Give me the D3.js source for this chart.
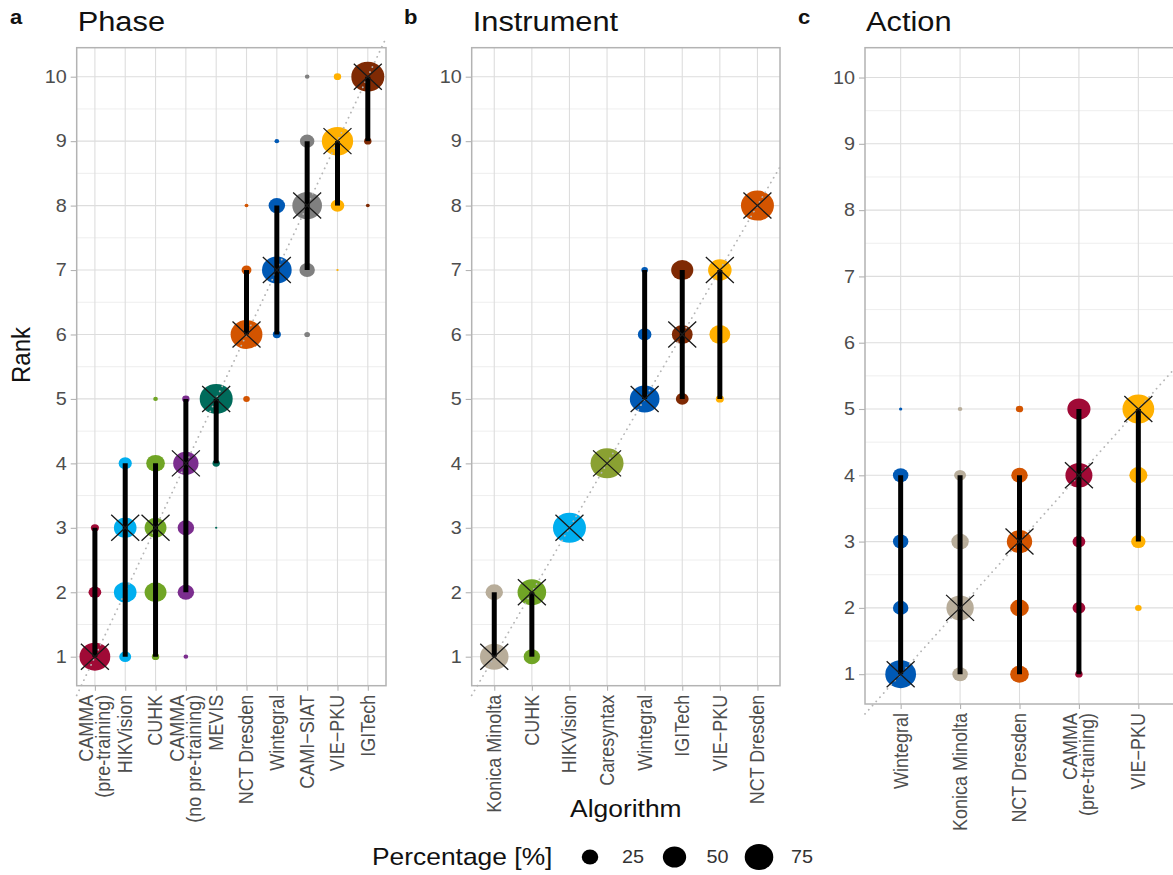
<!DOCTYPE html>
<html>
<head>
<meta charset="utf-8">
<script src="https://cdn.jsdelivr.net/npm/d3@7"></script>
<style>
  html, body { margin: 0; padding: 0; background: #fff; }
  svg { display: block; font-family: "Liberation Sans", Arial, sans-serif; }
</style>
</head>
<body>
<svg id="chart" width="1173" height="875"></svg>
<script>
// ---------------- DATA ----------------
const rankTicks = [1, 2, 3, 4, 5, 6, 7, 8, 9, 10];
const legendValues = [25, 50, 75];

// Panel a: Phase
const phaseAlgorithms = ["CAMMA\n(pre-training)", "HIKVision", "CUHK", "CAMMA\n(no pre-training)", "MEVIS",
  "NCT Dresden", "Wintegral", "CAMI\u2212SIAT", "VIE\u2212PKU", "IGITech"];
const phaseColors = ["#A00A36", "#00AEEF", "#70A525", "#7B2D8E", "#006B5B",
  "#D35400", "#0059B5", "#808080", "#FFB000", "#7F2A04"];
const phaseRank = [1, 3, 3, 4, 5, 6, 7, 8, 9, 10];
const phaseLow  = [1, 1, 1, 2, 4, 6, 6, 7, 8, 9];
const phaseHigh = [3, 4, 4, 5, 5, 7, 8, 9, 9, 10];
const phasePoints = [
  [[1, 87], [2, 15], [3, 6]],
  [[1, 13], [2, 47], [3, 47], [4, 16]],
  [[1, 5], [2, 44], [3, 44], [4, 32], [5, 2]],
  [[1, 2], [2, 25], [3, 25], [4, 59], [5, 5]],
  [[3, 0.5], [4, 5], [5, 100]],
  [[5, 4], [6, 93], [7, 9], [8, 1.4]],
  [[6, 6], [7, 81], [8, 25], [9, 2]],
  [[6, 3], [7, 22], [8, 81], [9, 19], [10, 2]],
  [[7, 0.5], [8, 17], [9, 90], [10, 5]],
  [[8, 1.4], [9, 5], [10, 100]]
];

// Panel b: Instrument
const instrumentAlgorithms = ["Konica Minolta", "CUHK", "HIKVision", "Caresyntax", "Wintegral",
  "IGITech", "VIE\u2212PKU", "NCT Dresden"];
const instrumentColors = ["#B8AD9A", "#70A525", "#00AEEF", "#8AA132", "#0059B5",
  "#7F2A04", "#FFB000", "#D35400"];
const instrumentRank = [1, 2, 3, 4, 5, 6, 7, 8];
const instrumentLow  = [1, 1, 3, 4, 5, 5, 5, 8];
const instrumentHigh = [2, 2, 3, 4, 7, 7, 7, 8];
const instrumentPoints = [
  [[1, 75], [2, 28]],
  [[1, 25], [2, 75]],
  [[3, 100]],
  [[4, 100]],
  [[5, 81], [6, 17], [7, 4]],
  [[5, 15], [6, 40], [7, 45]],
  [[5, 6], [6, 40], [7, 51]],
  [[8, 100]]
];

// Panel c: Action
const actionAlgorithms = ["Wintegral", "Konica Minolta", "NCT Dresden", "CAMMA\n(pre-training)", "VIE\u2212PKU"];
const actionColors = ["#0059B5", "#B8AD9A", "#D35400", "#A00A36", "#FFB000"];
const actionRank = [1, 2, 3, 4, 5];
const actionLow  = [1, 1, 1, 1, 3];
const actionHigh = [4, 4, 4, 5, 5];
const actionPoints = [
  [[1, 87], [2, 22], [3, 22], [4, 22], [5, 1]],
  [[1, 22], [2, 69], [3, 28], [4, 13], [5, 2]],
  [[1, 32], [2, 32], [3, 59], [4, 25], [5, 5]],
  [[1, 5], [2, 15], [3, 15], [4, 67], [5, 49]],
  [[2, 4], [3, 19], [4, 30], [5, 93]]
];

// ---------------- DRAW ----------------
const svg = d3.select("#chart");
const FONT = "'Liberation Sans', Arial, sans-serif";
const SX = 1.1; // horizontal stretch seen in the reference
const size = d3.scaleSqrt().domain([0, 100]).range([0, 15]);

function htext(parent, x, y, str, fs, opts = {}) {
  return parent.append("text")
    .attr("transform", `translate(${x},${y}) scale(${SX},1)`)
    .attr("font-size", fs).attr("font-family", FONT)
    .attr("font-weight", opts.weight || "normal")
    .attr("text-anchor", opts.anchor || "start")
    .attr("fill", opts.fill || "#111").text(str);
}

const panels = [
  {tag: "a", title: "Phase", names: phaseAlgorithms, colors: phaseColors, rank: phaseRank,
   low: phaseLow, high: phaseHigh, points: phasePoints,
   box: {left: 76.7, right: 386, top: 47.7, bottom: 685.7}, tagX: 10},
  {tag: "b", title: "Instrument", names: instrumentAlgorithms, colors: instrumentColors, rank: instrumentRank,
   low: instrumentLow, high: instrumentHigh, points: instrumentPoints,
   box: {left: 471.7, right: 780, top: 47.7, bottom: 685.7}, tagX: 404},
  {tag: "c", title: "Action", names: actionAlgorithms, colors: actionColors, rank: actionRank,
   low: actionLow, high: actionHigh, points: actionPoints,
   box: {left: 865, right: 1174, top: 47.7, bottom: 704}, tagX: 798}
];

panels.forEach(p => {
  const b = p.box;
  const n = p.names.length;
  const x = d3.scalePoint().domain(p.names).range([b.left, b.right]).padding(0.6);
  const xl = d3.scaleLinear().domain([1, n]).range([x(p.names[0]), x(p.names[n - 1])]);
  const y = d3.scaleLinear().domain([0.55, 10.45]).range([b.bottom, b.top]);
  const g = svg.append("g");

  // tag and title
  htext(svg, p.tagX, 24, p.tag, 20, {weight: "bold"});
  htext(svg, b.left + 1, 31, p.title, 28);

  const clipId = "clip-" + p.tag;
  svg.append("clipPath").attr("id", clipId).append("rect")
    .attr("x", b.left).attr("y", b.top).attr("width", b.right - b.left).attr("height", b.bottom - b.top);

  // grid
  const grid = g.append("g").attr("clip-path", `url(#${clipId})`);
  const minor = d3.range(0.5, 11, 1);
  grid.selectAll(".minor").data(minor).join("line")
    .attr("x1", b.left).attr("x2", b.right).attr("y1", d => y(d)).attr("y2", d => y(d))
    .attr("stroke", "#E6E6E6").attr("stroke-width", 0.7);
  grid.selectAll(".major").data(rankTicks).join("line")
    .attr("x1", b.left).attr("x2", b.right).attr("y1", d => y(d)).attr("y2", d => y(d))
    .attr("stroke", "#DDDDDD").attr("stroke-width", 1.1);
  grid.selectAll(".vmajor").data(p.names).join("line")
    .attr("x1", d => x(d)).attr("x2", d => x(d)).attr("y1", b.top).attr("y2", b.bottom)
    .attr("stroke", "#DDDDDD").attr("stroke-width", 1.1);

  // y axis
  const yAxis = d3.axisLeft(y).tickValues(rankTicks).tickSize(6).tickPadding(4).tickFormat(d3.format("d"));
  const ya = g.append("g").attr("transform", `translate(${b.left},0)`).call(yAxis);
  ya.select(".domain").remove();
  ya.selectAll("line").attr("stroke", "#B3B3B3").attr("stroke-width", 1.1);
  ya.selectAll("text").attr("x", 0).attr("transform", `translate(-10,0) scale(${SX},1)`)
    .attr("font-size", 18).attr("font-family", FONT).attr("fill", "#4D4D4D");

  // x axis ticks
  const xAxis = d3.axisBottom(x).tickSize(5).tickFormat("");
  const xa = g.append("g").attr("transform", `translate(0,${b.bottom})`).call(xAxis);
  xa.select(".domain").remove();
  xa.selectAll("line").attr("stroke", "#B3B3B3").attr("stroke-width", 1.1);

  // x labels (rotated, multi-line)
  const lh = 17;
  p.names.forEach(name => {
    const lines = name.split("\n");
    const t = g.append("g").attr("transform", `translate(${x(name)},${b.bottom + 9}) rotate(-90) scale(1,${SX})`)
      .append("text").attr("text-anchor", "end").attr("font-size", 18).attr("font-family", FONT)
      .attr("fill", "#4D4D4D");
    lines.forEach((ln, k) => {
      t.append("tspan").attr("x", 0).attr("y", (k - (lines.length - 1) / 2) * (lh / SX)).attr("dy", "0.35em").text(ln);
    });
  });

  // points
  const pts = [];
  p.points.forEach((arr, i) => arr.forEach(([r, pct]) => pts.push({name: p.names[i], color: p.colors[i], r, pct})));
  g.append("g").selectAll("ellipse").data(pts).join("ellipse")
    .attr("cx", d => x(d.name)).attr("cy", d => y(d.r))
    .attr("rx", d => size(d.pct) * SX).attr("ry", d => size(d.pct))
    .attr("fill", d => d.color);

  // diagonal dotted line (unclipped)
  g.append("line")
    .attr("x1", xl(0.4)).attr("y1", y(0.4)).attr("x2", xl(n + 0.6)).attr("y2", y(n + 0.6))
    .attr("stroke", "#B5B5B5").attr("stroke-width", 1.8).attr("stroke-dasharray", "0.1,5.5")
    .attr("stroke-linecap", "round");

  // range bars
  g.append("g").selectAll("line").data(p.names.map((nm, i) => ({nm, lo: p.low[i], hi: p.high[i]})).filter(d => d.hi > d.lo))
    .join("line")
    .attr("x1", d => x(d.nm)).attr("x2", d => x(d.nm)).attr("y1", d => y(d.lo)).attr("y2", d => y(d.hi))
    .attr("stroke", "#000").attr("stroke-width", 5);

  // X markers
  const sx = 14, sy = 13;
  g.append("g").selectAll("path").data(p.names.map((nm, i) => ({nm, r: p.rank[i]}))).join("path")
    .attr("d", d => {
      const cx = x(d.nm), cy = y(d.r);
      return `M${cx - sx},${cy - sy}L${cx + sx},${cy + sy}M${cx - sx},${cy + sy}L${cx + sx},${cy - sy}`;
    })
    .attr("stroke", "#1A1A1A").attr("stroke-width", 1.3).attr("fill", "none");

  // panel border
  g.append("rect").attr("x", b.left).attr("y", b.top).attr("width", b.right - b.left).attr("height", b.bottom - b.top)
    .attr("fill", "none").attr("stroke", "#B3B3B3").attr("stroke-width", 1.5);
});

// axis titles
svg.append("text").attr("transform", `translate(30,355) rotate(-90) scale(1,${SX})`).attr("text-anchor", "middle")
  .attr("font-size", 24).attr("font-family", FONT).attr("fill", "#111").text("Rank");
htext(svg, 625.8, 817, "Algorithm", 24, {anchor: "middle"});

// legend
const lg = svg.append("g");
htext(lg, 372, 865, "Percentage [%]", 24);
const legendX = d3.scalePoint().domain(legendValues).range([590, 759]);
legendValues.forEach(v => {
  lg.append("ellipse").attr("cx", legendX(v)).attr("cy", 857)
    .attr("rx", size(v) * SX).attr("ry", size(v)).attr("fill", "#000");
  htext(lg, legendX(v) + 32, 863, v, 18, {fill: "#333"});
});
</script>
</body>
</html>
